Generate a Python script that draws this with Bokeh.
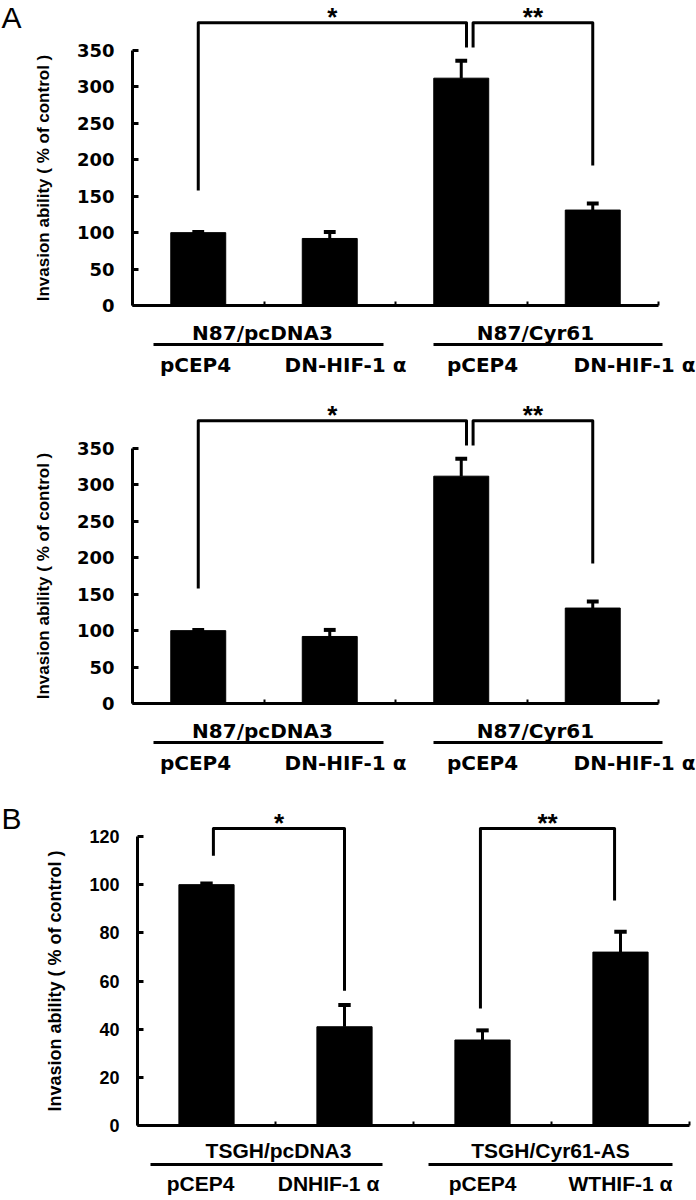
from bokeh.plotting import figure
from bokeh.models import Range1d, LinearAxis, FixedTicker
from bokeh.layouts import column
from bokeh.embed import file_html
from bokeh.resources import INLINE
from bokeh.core.properties import value

# ---------------- data ----------------
a_groups = ["N87/pcDNA3", "N87/Cyr61"]
a_labels = ["pCEP4", "DN-HIF-1 α", "pCEP4", "DN-HIF-1 α"]
a_values = [100, 92, 312, 131]
a_errors = [1, 9, 24, 9]
a_yticks = [0, 50, 100, 150, 200, 250, 300, 350]
a_sig = ["*", "**"]

b_groups = ["TSGH/pcDNA3", "TSGH/Cyr61-AS"]
b_labels = ["pCEP4", "DNHIF-1 α", "pCEP4", "WTHIF-1 α"]
b_values = [100, 41, 35.5, 72]
b_errors = [0.5, 9, 4, 8.5]
b_yticks = [0, 20, 40, 60, 80, 100, 120]
b_sig = ["*", "**"]

y_title = "Invasion ability ( % of control )"

# ---------------- layout / style ----------------
W = 696
A_STYLE = dict(
    height=398, axis_px=132, sx=131.5, zero_py=305, sy=255 / 350, top_page=0,
    bar_w=0.418, cap_w=0.045,
    brackets=[(1.0, 3.04, 158, 388, 354), (3.09, 4.0, 354, 388, 192)],
    star_py=1,
    group_px=[262, 535], group_py=332,
    line_px=[(153, 383), (433, 662)], line_py=344,
    sub_px=[195, 345, 482, 634], sub_py=364,
    tick_font="DejaVu Sans", tick_size="18px",
    lab_font="DejaVu Sans", lab_size="20px",
    title_size="17px", title_standoff=21, label_standoff=18,
    letter="A", letter_py=0,
)
B_STYLE = dict(
    height=404, axis_px=137, sx=138.0, zero_py=1125, sy=289 / 120, top_page=796,
    bar_w=0.40, cap_w=0.045,
    brackets=[(1.05, 2.0, 112, 123.3, 56), (2.985, 3.957, 48.6, 123.3, 93.4)],
    star_py=807,
    group_px=[278, 550], group_py=1150,
    line_px=[(150, 382), (428, 672)], line_py=1164,
    sub_px=[200, 328, 482, 620], sub_py=1183,
    tick_font="Liberation Sans", tick_size="18px",
    lab_font="Liberation Sans", lab_size="21px",
    title_size="18px", title_standoff=21, label_standoff=18,
    letter="B", letter_py=801,
)


def panel(values, errors, yticks, groups, labels, sig, st, shift=0):
    X = lambda px: 0.5 + (px - st["axis_px"]) / st["sx"]
    zero = st["zero_py"] + shift
    Y = lambda py: (zero - py) / st["sy"]
    top = st["top_page"] + shift
    h = st["height"]

    p = figure(width=W, height=h, output_backend="svg", toolbar_location=None,
               x_axis_type=None, y_axis_type=None,
               x_range=Range1d(X(0), X(W)), y_range=Range1d(Y(top + h), Y(top)),
               min_border=0, outline_line_color=None)
    p.xgrid.visible = False
    p.ygrid.visible = False

    n = len(values)
    xs = list(range(1, n + 1))
    ymax = yticks[-1]

    # y axis
    ya = LinearAxis(fixed_location=0.5, bounds=(0, ymax),
                    ticker=FixedTicker(ticks=yticks),
                    axis_line_width=3, major_tick_line_width=3,
                    major_tick_in=6, major_tick_out=0,
                    minor_tick_line_color=None,
                    major_label_standoff=st["label_standoff"],
                    major_label_text_font=st["tick_font"],
                    major_label_text_font_size=st["tick_size"],
                    major_label_text_font_style="bold",
                    major_label_text_color="black",
                    axis_label=y_title, axis_label_standoff=st["title_standoff"],
                    axis_label_text_font="Liberation Sans",
                    axis_label_text_font_size=st["title_size"],
                    axis_label_text_font_style="bold",
                    axis_label_text_color="black")
    p.add_layout(ya, "left")

    # x axis
    bticks = [i + 0.5 for i in range(n + 1)]
    xa = LinearAxis(fixed_location=0, bounds=(0.5, n + 0.5),
                    ticker=FixedTicker(ticks=bticks),
                    major_label_overrides={t: "" for t in bticks},
                    axis_line_width=3, major_tick_line_width=2,
                    major_tick_in=4, major_tick_out=0,
                    minor_tick_line_color=None)
    p.add_layout(xa, "below")

    # bars
    p.vbar(x=xs, top=values, width=st["bar_w"], bottom=0,
           fill_color="black", line_color="black")
    tops = [v + e for v, e in zip(values, errors)]
    p.segment(x0=xs, y0=values, x1=xs, y1=tops, line_color="black", line_width=3)
    cw = st["cap_w"]
    p.segment(x0=[x - cw for x in xs], y0=tops, x1=[x + cw for x in xs], y1=tops,
              line_color="black", line_width=4)

    # significance brackets
    bxs, bys, sx_ = [], [], []
    for (x1, x2, yl, yt, yr) in st["brackets"]:
        bxs.append([x1, x1, x2, x2])
        bys.append([yl, yt, yt, yr])
        sx_.append((x1 + x2) / 2)
    p.multi_line(xs=bxs, ys=bys, line_color="black", line_width=3, line_join="round")
    p.text(x=sx_, y=[Y(st["star_py"] + shift)] * len(sig), text=sig,
           text_font=value("Liberation Sans"),
           text_font_size="26px", text_font_style="bold",
           text_align="center", text_baseline="top", text_color="black")

    # category labels
    p.text(x=[X(v) for v in st["group_px"]], y=[Y(st["group_py"] + shift)] * 2,
           text=groups, text_font=value(st["lab_font"]), text_font_size=st["lab_size"],
           text_font_style="bold", text_align="center", text_baseline="middle")
    p.segment(x0=[X(a) for a, b in st["line_px"]], x1=[X(b) for a, b in st["line_px"]],
              y0=[Y(st["line_py"] + shift)] * 2, y1=[Y(st["line_py"] + shift)] * 2,
              line_color="black", line_width=3)
    p.text(x=[X(v) for v in st["sub_px"]], y=[Y(st["sub_py"] + shift)] * len(labels),
           text=labels, text_font=value(st["lab_font"]), text_font_size=st["lab_size"],
           text_font_style="bold", text_align="center", text_baseline="middle")

    # panel letter
    if st["letter"] and not shift:
        p.text(x=[X(1)], y=[Y(st["letter_py"])], text=[st["letter"]],
               text_font=value("Liberation Sans"), text_font_size="30px",
               text_align="left", text_baseline="top")
    return p


p1 = panel(a_values, a_errors, a_yticks, a_groups, a_labels, a_sig, A_STYLE)
p2 = panel(a_values, a_errors, a_yticks, a_groups, a_labels, a_sig, A_STYLE, shift=398)
p3 = panel(b_values, b_errors, b_yticks, b_groups, b_labels, b_sig, B_STYLE)

layout = column(p1, p2, p3, spacing=0)
open("out.html", "w").write(file_html(layout, INLINE))
